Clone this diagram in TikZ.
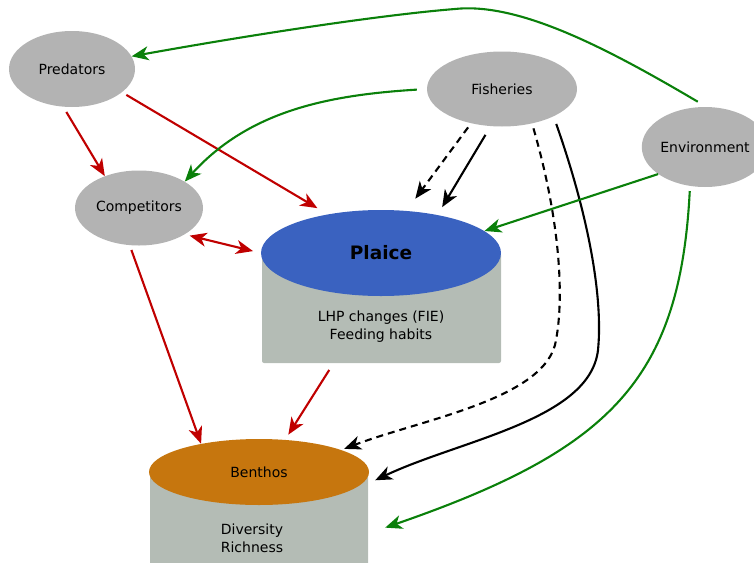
\documentclass[tikz,border=0pt]{standalone}
\usepackage{fontspec}
\setmainfont{DejaVu Sans}
\usetikzlibrary{arrows.meta,shapes.geometric}

\definecolor{ovalgray}{HTML}{B3B3B3}
\definecolor{boxgray}{HTML}{B4BCB5}
\definecolor{plaiceblue}{HTML}{3A62C0}
\definecolor{benthosorange}{HTML}{C6760E}
\definecolor{linkred}{HTML}{C00000}
\definecolor{linkgreen}{HTML}{0A800A}

\begin{document}
\begin{tikzpicture}[x=1pt, y=-1pt,
  oval/.style={ellipse, fill=ovalgray, inner sep=0pt, font=\fontsize{14}{17}\selectfont},
  stack/.style={rectangle, fill=boxgray, inner sep=0pt, rounded corners=2pt},
  stacktext/.style={align=center, font=\fontsize{14}{18}\selectfont},
  link/.style={line width=2.1pt, -{Stealth[length=17pt,width=14pt,inset=5pt]}},
  redlink/.style={link, draw=linkred},
  greenlink/.style={link, draw=linkgreen},
  blacklink/.style={link, draw=black},
  dashlink/.style={blacklink, dash pattern=on 7pt off 5pt}
]

% Frame
\useasboundingbox (0,0) rectangle (754,562);
\clip (0,0) rectangle (754,562);

% Drivers
\node[oval, minimum width=126pt, minimum height=76pt] (pred) at (72,69) {Predators};
\node[oval, minimum width=128pt, minimum height=75pt] (comp) at (139,208) {Competitors};
\node[oval, minimum width=150pt, minimum height=75pt] (fish) at (502,89) {Fisheries};
\node[oval, minimum width=116pt, minimum height=80pt] (env) at (705,147) {Environment};

% Plaice stack
\node[stack, minimum width=239pt, minimum height=110pt] (plaicebody) at (381.5,308) {};
\node[stacktext] (plaicetxt) at (381,327) {LHP changes (FIE)\\Feeding habits};
\node[ellipse, fill=plaiceblue, inner sep=0pt, minimum width=240pt, minimum height=86pt,
  font=\fontsize{18.5}{20}\selectfont\bfseries] (plaice) at (381,253) {Plaice};

% Benthos stack
\node[stack, minimum width=218pt, minimum height=96pt] (benthosbody) at (259,520) {};
\node[stacktext] (benthostxt) at (252,538) {Diversity\\Richness};
\node[ellipse, fill=benthosorange, inner sep=0pt, minimum width=220pt, minimum height=66pt,
  font=\fontsize{14}{17}\selectfont] (benthos) at (259,472) {Benthos};

% Red links
\draw[redlink, shorten <=6pt] (pred.-103) -- (comp.137);
\draw[redlink, shorten <=5pt, shorten >=12pt] (pred.-25) -- (plaice.144);
\draw[redlink, {Stealth[length=17pt,width=14pt,inset=5pt]}-{Stealth[length=17pt,width=14pt,inset=5pt]},
  shorten <=5pt, shorten >=8pt] (comp.-30) -- (plaice.west);
\draw[redlink, shorten <=5pt] (comp.-104) -- (benthos.154);
\draw[redlink, shorten <=8pt, shorten >=6pt] (plaicebody.-131) -- (benthos.51);

% Fisheries links
\draw[dashlink, shorten <=5pt, shorten >=15pt] (fish.-132) -- (plaice.59);
\draw[blacklink, shorten <=10pt, shorten >=9pt] (fish.-107) -- (plaice.34);
\draw[dashlink, shorten <=5pt, shorten >=3pt] (fish.-49)
  .. controls (560,220) and (565,300) .. (555,345)
  .. controls (540,400) and (420,420) .. (benthos.15);
\draw[blacklink, shorten <=8pt] (fish.-28)
  .. controls (590,220) and (603,300) .. (598,350)
  .. controls (590,420) and (460,440) .. ([xshift=7pt]benthosbody.20);

% Green links
\draw[greenlink, shorten <=10pt] (fish.west)
  .. controls (330,95) and (250,110) .. (comp.30);
\draw[greenlink, shorten <=10pt] (env.88)
  .. controls (610,50) and (520,2) .. (455,9)
  .. controls (380,15) and (250,35) .. (pred.12);
\draw[greenlink] (env.-150) -- (plaice.12);
\draw[greenlink, shorten <=5pt] (env.-111)
  .. controls (680,380) and (610,450) .. ([xshift=17pt]benthosbody.-4);

\end{tikzpicture}
\end{document}
